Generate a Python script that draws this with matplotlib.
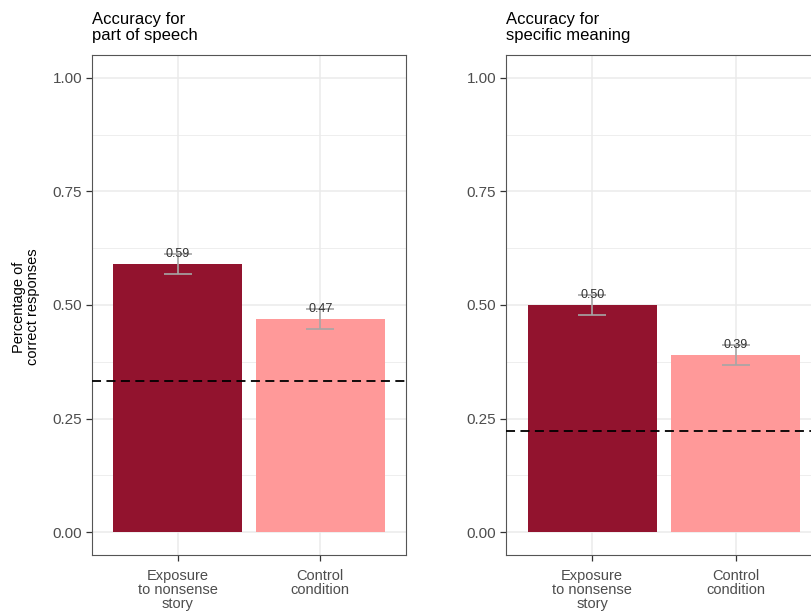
import matplotlib
matplotlib.use('Agg')
import matplotlib.pyplot as plt
import numpy as np

plt.rcParams['font.family'] = ['Liberation Sans', 'DejaVu Sans']

conditions = ['Exposure\nto nonsense\nstory', 'Control\ncondition']
pos_means = [0.59, 0.47]
pos_se = [0.022, 0.022]
meaning_means = [0.50, 0.39]
meaning_se = [0.022, 0.023]
chance_pos = 1 / 3
chance_meaning = 0.222
titles = ['Accuracy for\npart of speech', 'Accuracy for\nspecific meaning']
bar_colors = ['#92132E', '#FF9999']

W, H = 812, 615
fig = plt.figure(figsize=(W / 100, H / 100), dpi=100)

def px_axes(x0, x1, y0, y1):
    return fig.add_axes([x0 / W, 1 - y1 / H, (x1 - x0) / W, (y1 - y0) / H])

ax1 = px_axes(92, 406, 55, 555)
ax2 = px_axes(506, 822, 55, 555)

panels = [
    (ax1, pos_means, pos_se, chance_pos, titles[0]),
    (ax2, meaning_means, meaning_se, chance_meaning, titles[1]),
]

x = np.arange(1, len(conditions) + 1)
for ax, means, se, chance, title in panels:
    ax.set_xlim(0.4, 2.6)
    ax.set_ylim(-0.05, 1.05)
    ax.set_yticks([0, 0.25, 0.5, 0.75, 1.0])
    ax.set_yticks([0.125, 0.375, 0.625, 0.875], minor=True)
    ax.set_xticks(x)
    ax.set_xticklabels(conditions, fontsize=10.5, color='#4D4D4D', linespacing=1.0)
    ax.set_yticklabels(['0.00', '0.25', '0.50', '0.75', '1.00'], fontsize=11, color='#4D4D4D')
    ax.tick_params(axis='both', which='major', length=4, color='#333333', width=0.9, pad=3)
    ax.tick_params(axis='x', which='major', pad=6)
    ax.tick_params(axis='y', which='minor', length=0)
    ax.grid(True, which='major', color='#EBEBEB', linewidth=1.1)
    ax.grid(True, which='minor', axis='y', color='#EBEBEB', linewidth=0.6)
    ax.set_axisbelow(True)
    for s in ax.spines.values():
        s.set_color('#555555')
        s.set_linewidth(0.8)

    ax.bar(x, means, width=0.9, color=bar_colors, zorder=2)
    ax.errorbar(x, means, yerr=se, fmt='none', ecolor='#A6A6A6',
                elinewidth=1.2, capsize=10, capthick=1.2, zorder=3)
    for xi, m, e in zip(x, means, se):
        ax.text(xi, m + e, f'{m:.2f}', ha='center', va='center',
                fontsize=9, color='#333333', zorder=4)
    ax.axhline(chance, color='black', linestyle=(0, (5, 3)), linewidth=1.3, zorder=3)
    ax.text(0, 1.024, title, transform=ax.transAxes, ha='left', va='bottom',
            fontsize=12, color='black', linespacing=1.05)

fig.text(26 / W, 1 - 307 / H, 'Percentage of\ncorrect responses', rotation=90,
         ha='center', va='center', fontsize=10.5, color='black', linespacing=1.0)

fig.savefig('out.png', dpi=100)
